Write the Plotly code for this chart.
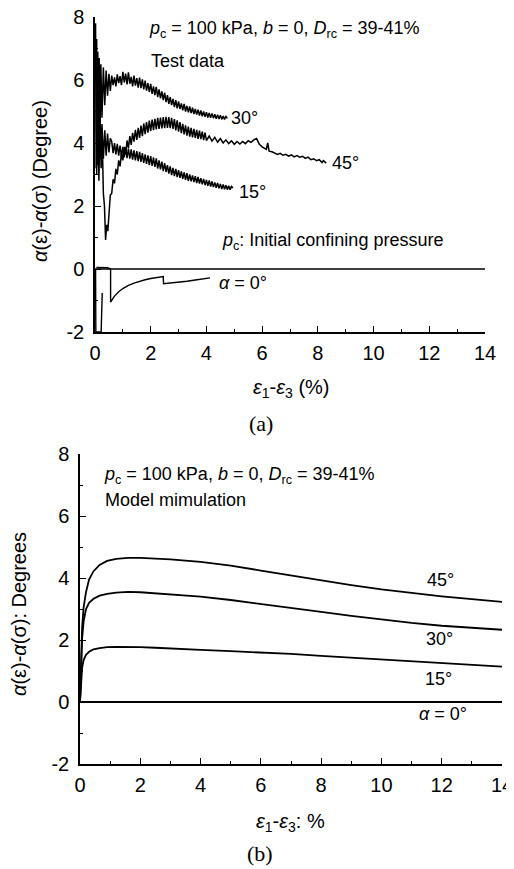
import plotly.graph_objects as go

# ---------------- Panel (a): test data ----------------
x30 = [0.02, 0.04, 0.06, 0.08, 0.10, 0.12, 0.15, 0.18, 0.21, 0.25, 0.30, 0.35, 0.40, 0.45, 0.50, 0.55,
       0.60, 0.65, 0.70, 0.75, 0.80, 0.85, 0.90, 0.95, 1.00, 1.05, 1.10, 1.15, 1.20, 1.25, 1.30, 1.35,
       1.40, 1.45, 1.50, 1.55, 1.60, 1.65, 1.70, 1.75, 1.80, 1.85, 1.90, 1.95, 2.00, 2.05, 2.10, 2.15,
       2.20, 2.25, 2.30, 2.35, 2.40, 2.45, 2.50, 2.55, 2.60, 2.65, 2.70, 2.75, 2.80, 2.85, 2.90, 2.95,
       3.00, 3.05, 3.10, 3.15, 3.20, 3.25, 3.30, 3.35, 3.40, 3.45, 3.50, 3.55, 3.60, 3.65, 3.70, 3.75,
       3.80, 3.85, 3.90, 3.95, 4.00, 4.05, 4.10, 4.15, 4.20, 4.25, 4.30, 4.35, 4.40, 4.45, 4.50, 4.55,
       4.60, 4.65, 4.70, 4.75]
y30 = [7.8, 3.2, 7.3, 3.5, 6.9, 3.8, 6.7, 4.3, 6.5, 4.8, 6.4, 5.2, 6.3, 5.5, 6.2, 5.65,
       6.14, 5.84, 6.08, 5.80, 6.18, 5.90, 6.12, 5.84, 6.26, 5.92, 6.20, 5.86, 6.24, 5.88, 6.10, 5.80,
       6.14, 5.82, 6.06, 5.76, 6.08, 5.74, 6.02, 5.70, 5.98, 5.66, 5.90, 5.62, 5.88, 5.56, 5.80, 5.52,
       5.78, 5.46, 5.70, 5.42, 5.64, 5.36, 5.60, 5.30, 5.52, 5.24, 5.46, 5.20, 5.40, 5.14, 5.36, 5.10,
       5.32, 5.08, 5.26, 5.04, 5.24, 5.00, 5.18, 4.97, 5.16, 4.95, 5.12, 4.92, 5.08, 4.90, 5.06, 4.87,
       5.03, 4.85, 5.00, 4.83, 4.98, 4.81, 4.95, 4.80, 4.94, 4.79, 4.91, 4.77, 4.90, 4.76, 4.88, 4.75,
       4.86, 4.75, 4.84, 4.78]

x15 = [0.05, 0.08, 0.11, 0.14, 0.17, 0.20, 0.25, 0.30, 0.35, 0.40, 0.45, 0.50, 0.55,
       0.60, 0.65, 0.70, 0.75, 0.80, 0.85, 0.90, 0.95, 1.00, 1.05, 1.10, 1.15, 1.20, 1.25, 1.30, 1.35,
       1.40, 1.45, 1.50, 1.55, 1.60, 1.65, 1.70, 1.75, 1.80, 1.85, 1.90, 1.95, 2.00, 2.05, 2.10, 2.15,
       2.20, 2.25, 2.30, 2.35, 2.40, 2.45, 2.50, 2.55, 2.60, 2.65, 2.70, 2.75, 2.80, 2.85, 2.90, 2.95,
       3.00, 3.05, 3.10, 3.15, 3.20, 3.25, 3.30, 3.35, 3.40, 3.45, 3.50, 3.55, 3.60, 3.65, 3.70, 3.75,
       3.80, 3.85, 3.90, 3.95, 4.00, 4.05, 4.10, 4.15, 4.20, 4.25, 4.30, 4.35, 4.40, 4.45, 4.50, 4.55,
       4.60, 4.65, 4.70, 4.75, 4.80, 4.85, 4.90, 4.95]
y15 = [5.0, 3.3, 4.9, 3.4, 4.8, 3.5, 4.6, 3.5, 4.4, 3.6, 4.3, 3.7, 4.15,
       4.05, 3.68, 4.00, 3.64, 3.97, 3.60, 3.92, 3.57, 3.88, 3.54, 3.86, 3.52, 3.82, 3.50, 3.80, 3.47,
       3.77, 3.45, 3.74, 3.42, 3.72, 3.40, 3.68, 3.37, 3.64, 3.34, 3.61, 3.30, 3.58, 3.27, 3.54, 3.24,
       3.51, 3.19, 3.45, 3.16, 3.41, 3.11, 3.36, 3.08, 3.30, 3.03, 3.26, 2.98, 3.21, 2.95, 3.18, 2.92,
       3.14, 2.89, 3.10, 2.86, 3.07, 2.83, 3.04, 2.80, 3.00, 2.78, 2.97, 2.76, 2.95, 2.73, 2.92, 2.71,
       2.88, 2.69, 2.86, 2.66, 2.83, 2.64, 2.81, 2.62, 2.78, 2.60, 2.75, 2.58, 2.73, 2.56, 2.70, 2.54,
       2.68, 2.53, 2.66, 2.52, 2.64, 2.52, 2.62, 2.57]

x45 = [0.06, 0.10, 0.14, 0.18, 0.22, 0.26, 0.30, 0.34, 0.38, 0.42, 0.46,
       0.50, 0.55, 0.60, 0.65, 0.70, 0.75, 0.80, 0.85, 0.90, 0.95, 1.00, 1.05, 1.10, 1.15, 1.20, 1.25,
       1.30, 1.35, 1.40, 1.45, 1.50, 1.55, 1.60, 1.65, 1.70, 1.75, 1.80, 1.85, 1.90, 1.95, 2.00, 2.05,
       2.10, 2.15, 2.20, 2.25, 2.30, 2.35, 2.40, 2.45, 2.50, 2.55, 2.60, 2.65, 2.70, 2.75, 2.80, 2.85,
       2.90, 2.95, 3.00, 3.05, 3.10, 3.15, 3.20, 3.25, 3.30, 3.35, 3.40, 3.45, 3.50, 3.55, 3.60, 3.65,
       3.70, 3.75, 3.80, 3.85, 3.90, 3.95, 4.00,
       4.1, 4.2, 4.3, 4.4, 4.5, 4.6, 4.7, 4.8, 4.9, 5.0, 5.1, 5.2, 5.3, 5.4, 5.5, 5.6, 5.7, 5.8, 5.9,
       6.0, 6.1, 6.15, 6.2, 6.25, 6.35, 6.45, 6.55, 6.65, 6.75, 6.85, 6.95, 7.05, 7.15, 7.25, 7.35,
       7.45, 7.55, 7.65, 7.75, 7.85, 7.95, 8.05, 8.15, 8.2, 8.3]
y45 = [3.0, 5.2, 2.8, 4.8, 3.2, 4.2, 2.4, 2.0, 0.92, 1.4, 1.2,
       1.75, 2.35, 2.40, 2.85, 2.72, 3.18, 3.00, 3.45, 3.26, 3.68, 3.45, 3.88, 3.64, 4.08, 3.84, 4.22,
       3.94, 4.32, 4.04, 4.42, 4.10, 4.48, 4.16, 4.55, 4.22, 4.62, 4.28, 4.66, 4.33, 4.71, 4.38, 4.74,
       4.41, 4.77, 4.43, 4.80, 4.45, 4.81, 4.46, 4.82, 4.47, 4.83, 4.48, 4.82, 4.47, 4.80, 4.45, 4.76,
       4.40, 4.72, 4.36, 4.66, 4.31, 4.61, 4.27, 4.56, 4.23, 4.52, 4.20, 4.48, 4.18, 4.45, 4.16, 4.42,
       4.13, 4.39, 4.12, 4.36, 4.09, 4.33, 4.08,
       4.22, 4.06, 4.18, 4.03, 4.14, 4.00, 4.10, 3.98, 4.07, 3.96, 4.05, 3.97, 4.05, 3.98, 4.07, 4.02,
       4.10, 4.14, 3.96, 3.88, 3.84, 3.80, 4.00, 3.74, 3.72, 3.68, 3.64, 3.67, 3.61, 3.64, 3.58, 3.62,
       3.56, 3.60, 3.55, 3.58, 3.51, 3.55, 3.47, 3.50, 3.44, 3.47, 3.38, 3.44, 3.36]

x0 = [0.02, 0.03, 0.22, 0.26, None, 0.05, 0.3, 0.45, 0.56, 0.56, 0.7, 0.85, 1.0, 1.2, 1.4, 1.6, 1.8,
      2.0, 2.2, 2.45, 2.46, 2.7, 3.0, 3.3, 3.6, 3.9, 4.13]
y0 = [0.0, -2.0, -2.0, -0.76, None, 0.05, 0.05, 0.04, 0.0, -1.05, -0.86, -0.72, -0.62, -0.52, -0.45,
      -0.39, -0.34, -0.30, -0.27, -0.24, -0.47, -0.45, -0.42, -0.39, -0.35, -0.32, -0.28]

x_ref = [0, 14]
y_ref = [0, 0]

# ---------------- Panel (b): model simulation ----------------
x_model = [0, 0.03, 0.07, 0.12, 0.2, 0.3, 0.45, 0.65, 0.9, 1.2, 1.6, 2.0, 2.5, 3.0, 4.0, 5.0, 6.0,
           7.0, 8.0, 9.0, 10.0, 11.0, 12.0, 13.0, 14.0]
m45 = [0, 1.5, 2.4, 3.05, 3.55, 3.95, 4.22, 4.42, 4.55, 4.62, 4.65, 4.65, 4.63, 4.6, 4.52, 4.40, 4.24,
       4.08, 3.92, 3.77, 3.63, 3.51, 3.41, 3.32, 3.23]
m30 = [0, 1.3, 2.05, 2.6, 3.0, 3.2, 3.33, 3.43, 3.49, 3.53, 3.55, 3.54, 3.5, 3.46, 3.40, 3.29, 3.17,
       3.04, 2.91, 2.78, 2.66, 2.55, 2.46, 2.39, 2.33]
m15 = [0, 0.7, 1.1, 1.35, 1.52, 1.62, 1.7, 1.74, 1.77, 1.78, 1.78, 1.77, 1.75, 1.72, 1.68, 1.64, 1.60,
       1.55, 1.49, 1.43, 1.37, 1.31, 1.25, 1.19, 1.14]
m0 = [0] * len(x_model)

tick_vals_x = [0, 2, 4, 6, 8, 10, 12, 14]
tick_vals_y = [-2, 0, 2, 4, 6, 8]
tick_text_y = ["-2", "0", "2", "4", "6", "8"]

FONT = "Liberation Sans, Arial, sans-serif"
BLACK = "#000000"

fig = go.Figure()

def add_line(x, y, xa, ya, w=1.4):
    fig.add_trace(go.Scatter(x=x, y=y, mode="lines", xaxis=xa, yaxis=ya,
                             line=dict(color=BLACK, width=w), showlegend=False,
                             hoverinfo="skip", connectgaps=False))

add_line(x_ref, y_ref, "x", "y", 1.3)
add_line(x30, y30, "x", "y", 1.5)
add_line(x15, y15, "x", "y", 1.5)
add_line(x45, y45, "x", "y", 1.5)
add_line(x0, y0, "x", "y", 1.4)

for m in (m45, m30, m15, m0):
    add_line(x_model, m, "x2", "y2", 1.8)

def xaxis(domain, anchor):
    return dict(domain=domain, anchor=anchor, range=[0, 14], tickvals=tick_vals_x,
                ticks="inside", ticklen=6, tickwidth=1.3, tickcolor=BLACK, automargin=False,
                ticklabelstandoff=2, ticklabeloverflow="allow",
                showline=True, linecolor=BLACK, linewidth=1.5, showgrid=False, zeroline=False,
                tickfont=dict(family=FONT, size=20, color=BLACK),
                minor=dict(ticks="inside", ticklen=3, tickwidth=1.2, tickcolor=BLACK,
                           dtick=1, tick0=0, showgrid=False))

def yaxis(domain, anchor):
    return dict(domain=domain, anchor=anchor, range=[-2, 8], tickvals=tick_vals_y,
                ticktext=tick_text_y, automargin=False, ticklabelstandoff=5,
                ticklabeloverflow="allow",
                ticks="inside", ticklen=6, tickwidth=1.3, tickcolor=BLACK,
                showline=True, linecolor=BLACK, linewidth=1.5, showgrid=False, zeroline=False,
                tickfont=dict(family=FONT, size=20, color=BLACK),
                minor=dict(ticks="inside", ticklen=3, tickwidth=1.2, tickcolor=BLACK,
                           dtick=1, tick0=0, showgrid=False))

# The page body has an 8 px margin, so the figure starts at (8, 8) in the window.
OFF = 8
W, H = 514 - OFF, 869 - OFF

def px_x(px):
    return (px - OFF) / W

def px_y(py):
    return 1 - (py - OFF) / H

fig.update_layout(
    width=W, height=H, margin=dict(l=0, r=0, t=0, b=0, autoexpand=False),
    paper_bgcolor="white", plot_bgcolor="white",
    xaxis=xaxis([px_x(95), px_x(485)], "y"),
    yaxis=yaxis([px_y(332), px_y(17)], "x"),
    xaxis2=xaxis([px_x(80), px_x(502)], "y2"),
    yaxis2=yaxis([px_y(764), px_y(454)], "x2"),
    showlegend=False,
)

def ann(text, x, y, xref, yref, size=18, xanchor="left", angle=0, family=FONT):
    fig.add_annotation(text=text, x=x, y=y, xref=xref, yref=yref, showarrow=False,
                       xanchor=xanchor, yanchor="middle", textangle=angle,
                       font=dict(family=family, size=size, color=BLACK))

# Panel (a) annotations
ann("<i>p</i><sub>c</sub> = 100 kPa, <i>b</i> = 0, <i>D</i><sub>rc</sub> = 39-41%", 1.88, 7.6, "x", "y")
ann("Test data", 1.95, 6.6, "x", "y")
ann("30°", 4.8, 4.78, "x", "y")
ann("45°", 8.43, 3.38, "x", "y")
ann("15°", 5.08, 2.43, "x", "y")
ann("<i>p</i><sub>c</sub>: Initial confining pressure", 4.49, 0.86, "x", "y")
ann("<i>α</i> = 0°", 4.38, -0.44, "x", "y")

# Panel (b) annotations
ann("<i>p</i><sub>c</sub> = 100 kPa, <i>b</i> = 0, <i>D</i><sub>rc</sub> = 39-41%", 0.73, 7.32, "x2", "y2")
ann("Model mimulation", 0.76, 6.52, "x2", "y2")
ann("45°", 11.45, 3.94, "x2", "y2")
ann("30°", 11.42, 2.02, "x2", "y2")
ann("15°", 11.38, 0.73, "x2", "y2")
ann("<i>α</i> = 0°", 11.18, -0.4, "x2", "y2")

# Axis titles and captions (paper coordinates)
ann("<i>α</i>(ε)-<i>α</i>(σ) (Degree)", px_x(40), px_y(181), "paper", "paper", size=20,
    xanchor="center", angle=-90)
ann("<i>ε</i><sub>1</sub>-<i>ε</i><sub>3</sub> (%)", px_x(291), px_y(389), "paper", "paper", size=20,
    xanchor="center")
ann("(a)", px_x(261), px_y(423), "paper", "paper", size=22, xanchor="center",
    family="Liberation Serif, Times New Roman, serif")

ann("<i>α</i>(ε)-<i>α</i>(σ): Degrees", px_x(19), px_y(614), "paper", "paper", size=20,
    xanchor="center", angle=-90)
ann("<i>ε</i><sub>1</sub>-<i>ε</i><sub>3</sub>: %", px_x(290), px_y(822), "paper", "paper", size=20,
    xanchor="center")
ann("(b)", px_x(260), px_y(853), "paper", "paper", size=22, xanchor="center",
    family="Liberation Serif, Times New Roman, serif")

fig.write_html("out.html")
